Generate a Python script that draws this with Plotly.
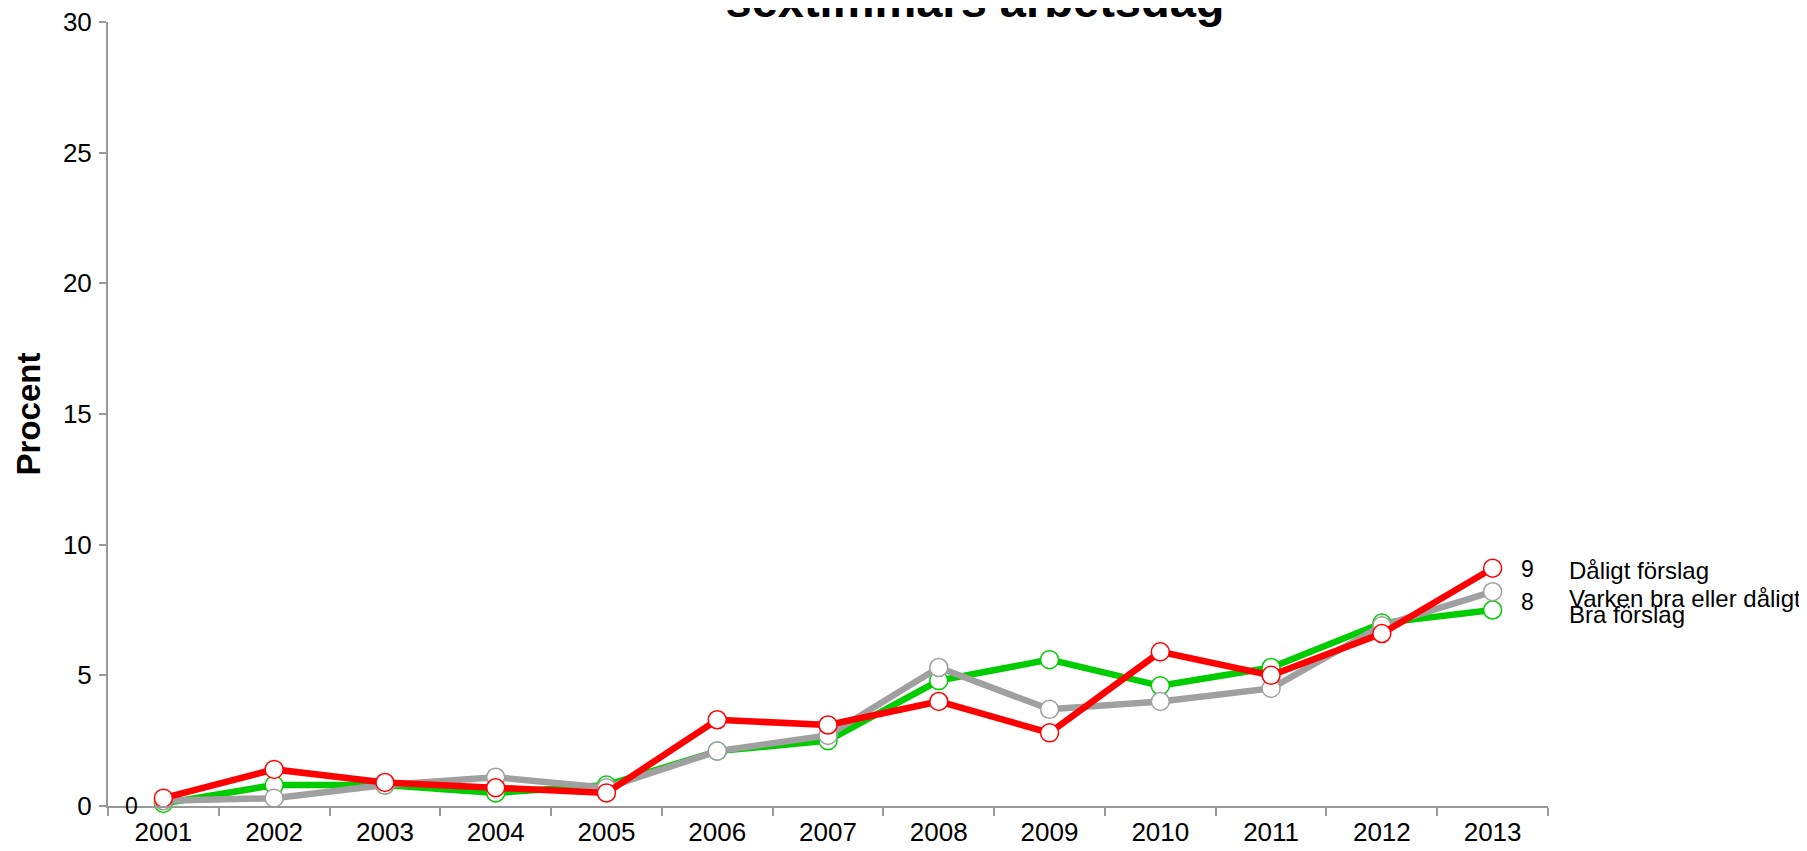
import plotly.graph_objects as go

years = ["2001", "2002", "2003", "2004", "2005", "2006", "2007",
         "2008", "2009", "2010", "2011", "2012", "2013"]
bra = [0.1, 0.8, 0.8, 0.5, 0.8, 2.1, 2.5, 4.8, 5.6, 4.6, 5.3, 7.0, 7.5]
varken = [0.2, 0.3, 0.8, 1.1, 0.7, 2.1, 2.7, 5.3, 3.7, 4.0, 4.5, 6.9, 8.2]
daligt = [0.3, 1.4, 0.9, 0.7, 0.5, 3.3, 3.1, 4.0, 2.8, 5.9, 5.0, 6.6, 9.1]

names = ["Bra förslag", "Varken bra eller dåligt", "Dåligt förslag"]
colors = ["#00CC00", "#A0A0A0", "#FF0000"]
series = [bra, varken, daligt]

FONT = "Arial, Liberation Sans, sans-serif"

fig = go.Figure()
for name, col, vals in zip(names, colors, series):
    fig.add_trace(go.Scatter(
        x=years, y=vals, name=name, mode="lines+markers",
        line=dict(color=col, width=6.5),
        marker=dict(size=18, color="white", line=dict(color=col, width=1.5)),
        cliponaxis=False,
    ))

last = len(years) - 1
# end value labels (x given as category index)
fig.add_annotation(x=last, y=daligt[-1], text=str(round(daligt[-1])),
                   xref="x", yref="y", showarrow=False, xanchor="left",
                   xshift=26, yshift=-1, font=dict(size=23, color="black", family=FONT))
fig.add_annotation(x=last, y=varken[-1], text=str(round(varken[-1])),
                   xref="x", yref="y", showarrow=False, xanchor="left",
                   xshift=26, yshift=-10, font=dict(size=23, color="black", family=FONT))
# start label
fig.add_annotation(x=0, y=bra[0], text=str(round(bra[0])),
                   xref="x", yref="y", showarrow=False, xanchor="right",
                   xshift=-23, yshift=-3, font=dict(size=23, color="black", family=FONT))

# series name labels on the right
label_shift = {"Dåligt förslag": -2, "Varken bra eller dåligt": -7, "Bra förslag": -4}
for name, vals in zip(names, series):
    fig.add_annotation(x=1.0, y=vals[-1], text=name, xref="paper", yref="y",
                       showarrow=False, xanchor="left", xshift=19,
                       yshift=label_shift[name],
                       font=dict(size=24, color="black", family=FONT))

fig.update_layout(
    width=1807, height=851,
    margin=dict(l=100, r=267, t=14, b=53, autoexpand=False),
    paper_bgcolor="white", plot_bgcolor="white",
    showlegend=False,
    font=dict(family=FONT, color="black", size=26),
    title=dict(text="<b>sextimmars arbetsdag</b>", x=967 / 1807, xanchor="center",
               yref="container", y=1 - 9 / 851, yanchor="bottom",
               font=dict(size=47, family=FONT, color="black")),
)
fig.update_xaxes(
    type="category", range=[-0.5, 12.5], showline=True, linecolor="#999999",
    linewidth=2, ticks="outside", tickson="boundaries", ticklen=8,
    tickcolor="#999999", tickwidth=2, showgrid=False, zeroline=False,
    ticklabelstandoff=2, ticklabeloverflow="allow",
    tickfont=dict(size=26, family=FONT, color="black"),
)
fig.update_yaxes(
    range=[0, 30], tickvals=[0, 5, 10, 15, 20, 25, 30], showline=True,
    linecolor="#999999", linewidth=2, ticks="outside", ticklen=7,
    tickcolor="#999999", tickwidth=2, showgrid=False, zeroline=False,
    ticklabelstandoff=2, ticklabeloverflow="allow",
    tickfont=dict(size=26, family=FONT, color="black"),
    title=dict(text="<b>Procent</b>", standoff=12,
               font=dict(size=33, family=FONT, color="black")),
)

fig.write_html("out.html")
